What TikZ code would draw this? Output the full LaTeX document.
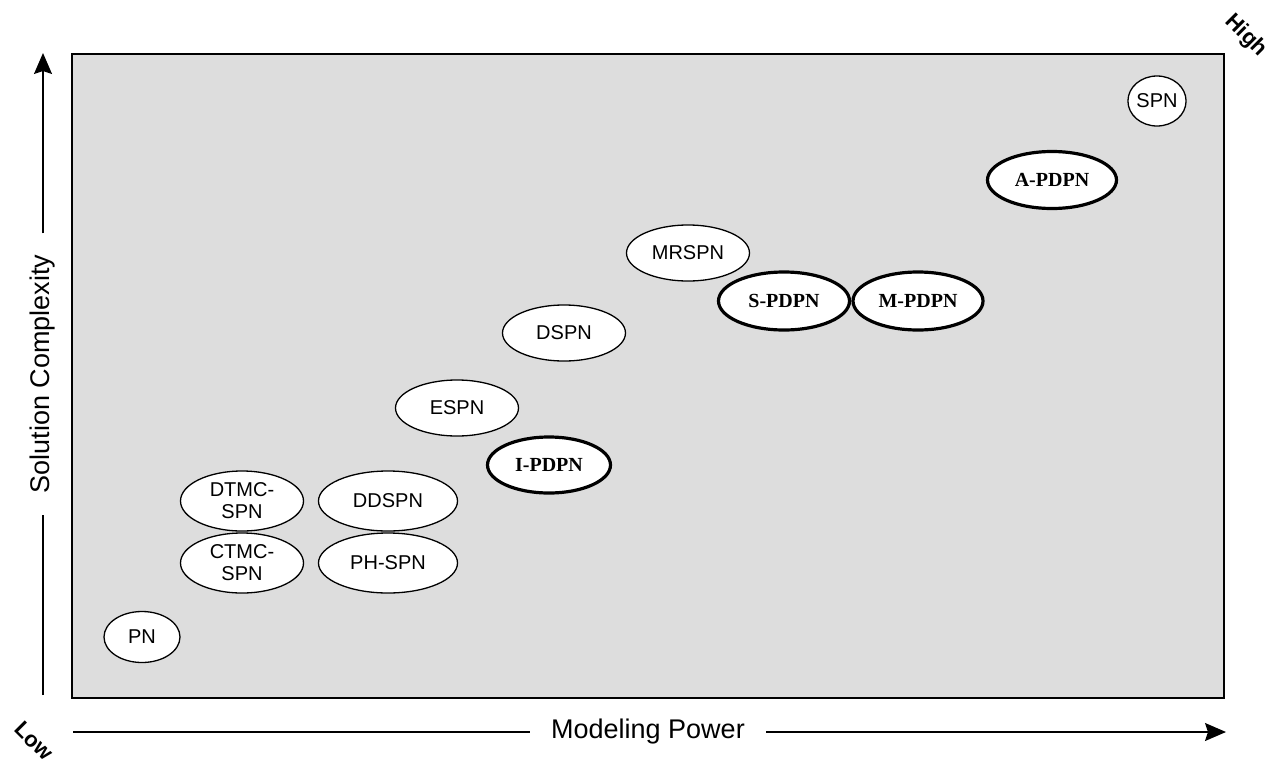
\documentclass[tikz,border=0pt]{standalone}
\usepackage{fontspec}
\setmainfont{Liberation Serif}
\setsansfont{Liberation Sans}
\usetikzlibrary{shapes.geometric,arrows.meta}
\definecolor{panelgray}{HTML}{DDDDDD}
\tikzset{
  net/.style={ellipse, draw=black, line width=1.3pt, fill=white, inner sep=0pt,
    font=\sffamily\fontsize{20}{22}\selectfont, align=center},
  pdpn/.style={net, line width=3.2pt, font=\rmfamily\bfseries\fontsize{20}{22}\selectfont},
  axis/.style={line width=1.5pt, draw=black},
  axislabel/.style={font=\sffamily\fontsize{27}{30}\selectfont, inner ysep=0pt, inner xsep=21pt},
  endlabel/.style={font=\sffamily\bfseries\fontsize{22}{24}\selectfont, rotate=-45, inner sep=0pt},
  tip/.style={-{Stealth[length=21pt,width=18pt,inset=3pt]}}
}
\begin{document}
\begin{tikzpicture}[x=1pt,y=-1pt]
  \useasboundingbox (0,0) rectangle (1277,766);
  % plotting panel
  \draw[line width=1.5pt, fill=panelgray] (72,54) rectangle (1224,698);

  % axes with their captions
  \coordinate (xlow) at (73,732);
  \coordinate (xhigh) at (1226,732);
  \node[axislabel] (xlab) at (648,732) {Modeling Power};
  \draw[axis] (xlow) -- (xlab);
  \draw[axis,tip] (xlab) -- (xhigh);

  \coordinate (ylow) at (43,695);
  \coordinate (yhigh) at (43,53);
  \node[axislabel, rotate=90] (ylab) at (43,374) {Solution Complexity};
  \draw[axis] (ylow) -- (ylab);
  \draw[axis,tip] (ylab) -- (yhigh);

  \node[endlabel] (low) at (34,741) {Low};
  \node[endlabel] (high) at (1246,36) {High};

  % net classes
  \node[net, minimum width=50pt, minimum height=50pt] (spn) at (1157,101) {SPN};
  \node[pdpn, minimum width=129pt, minimum height=57pt] (apdpn) at (1052,180) {A-PDPN};
  \node[net, minimum width=123pt, minimum height=56pt] (mrspn) at (688,253) {MRSPN};
  \node[pdpn, minimum width=131pt, minimum height=58pt] (spdpn) at (784,301) {S-PDPN};
  \node[pdpn, minimum width=130pt, minimum height=58pt] (mpdpn) at (918,301) {M-PDPN};
  \node[net, minimum width=123pt, minimum height=56pt] (dspn) at (564,333) {DSPN};
  \node[net, minimum width=123pt, minimum height=56pt] (espn) at (457,408) {ESPN};
  \node[pdpn, minimum width=123pt, minimum height=56pt] (ipdpn) at (549,465) {I-PDPN};
  \node[net, minimum width=123pt, minimum height=60pt] (dtmc) at (242,501) {DTMC-\\SPN};
  \node[net, minimum width=139pt, minimum height=60pt] (ddspn) at (388,501) {DDSPN};
  \node[net, minimum width=123pt, minimum height=60pt] (ctmc) at (242,563) {CTMC-\\SPN};
  \node[net, minimum width=139pt, minimum height=60pt] (phspn) at (388,563) {PH-SPN};
  \node[net, minimum width=76pt, minimum height=51pt] (pn) at (142,637) {PN};
\end{tikzpicture}
\end{document}
